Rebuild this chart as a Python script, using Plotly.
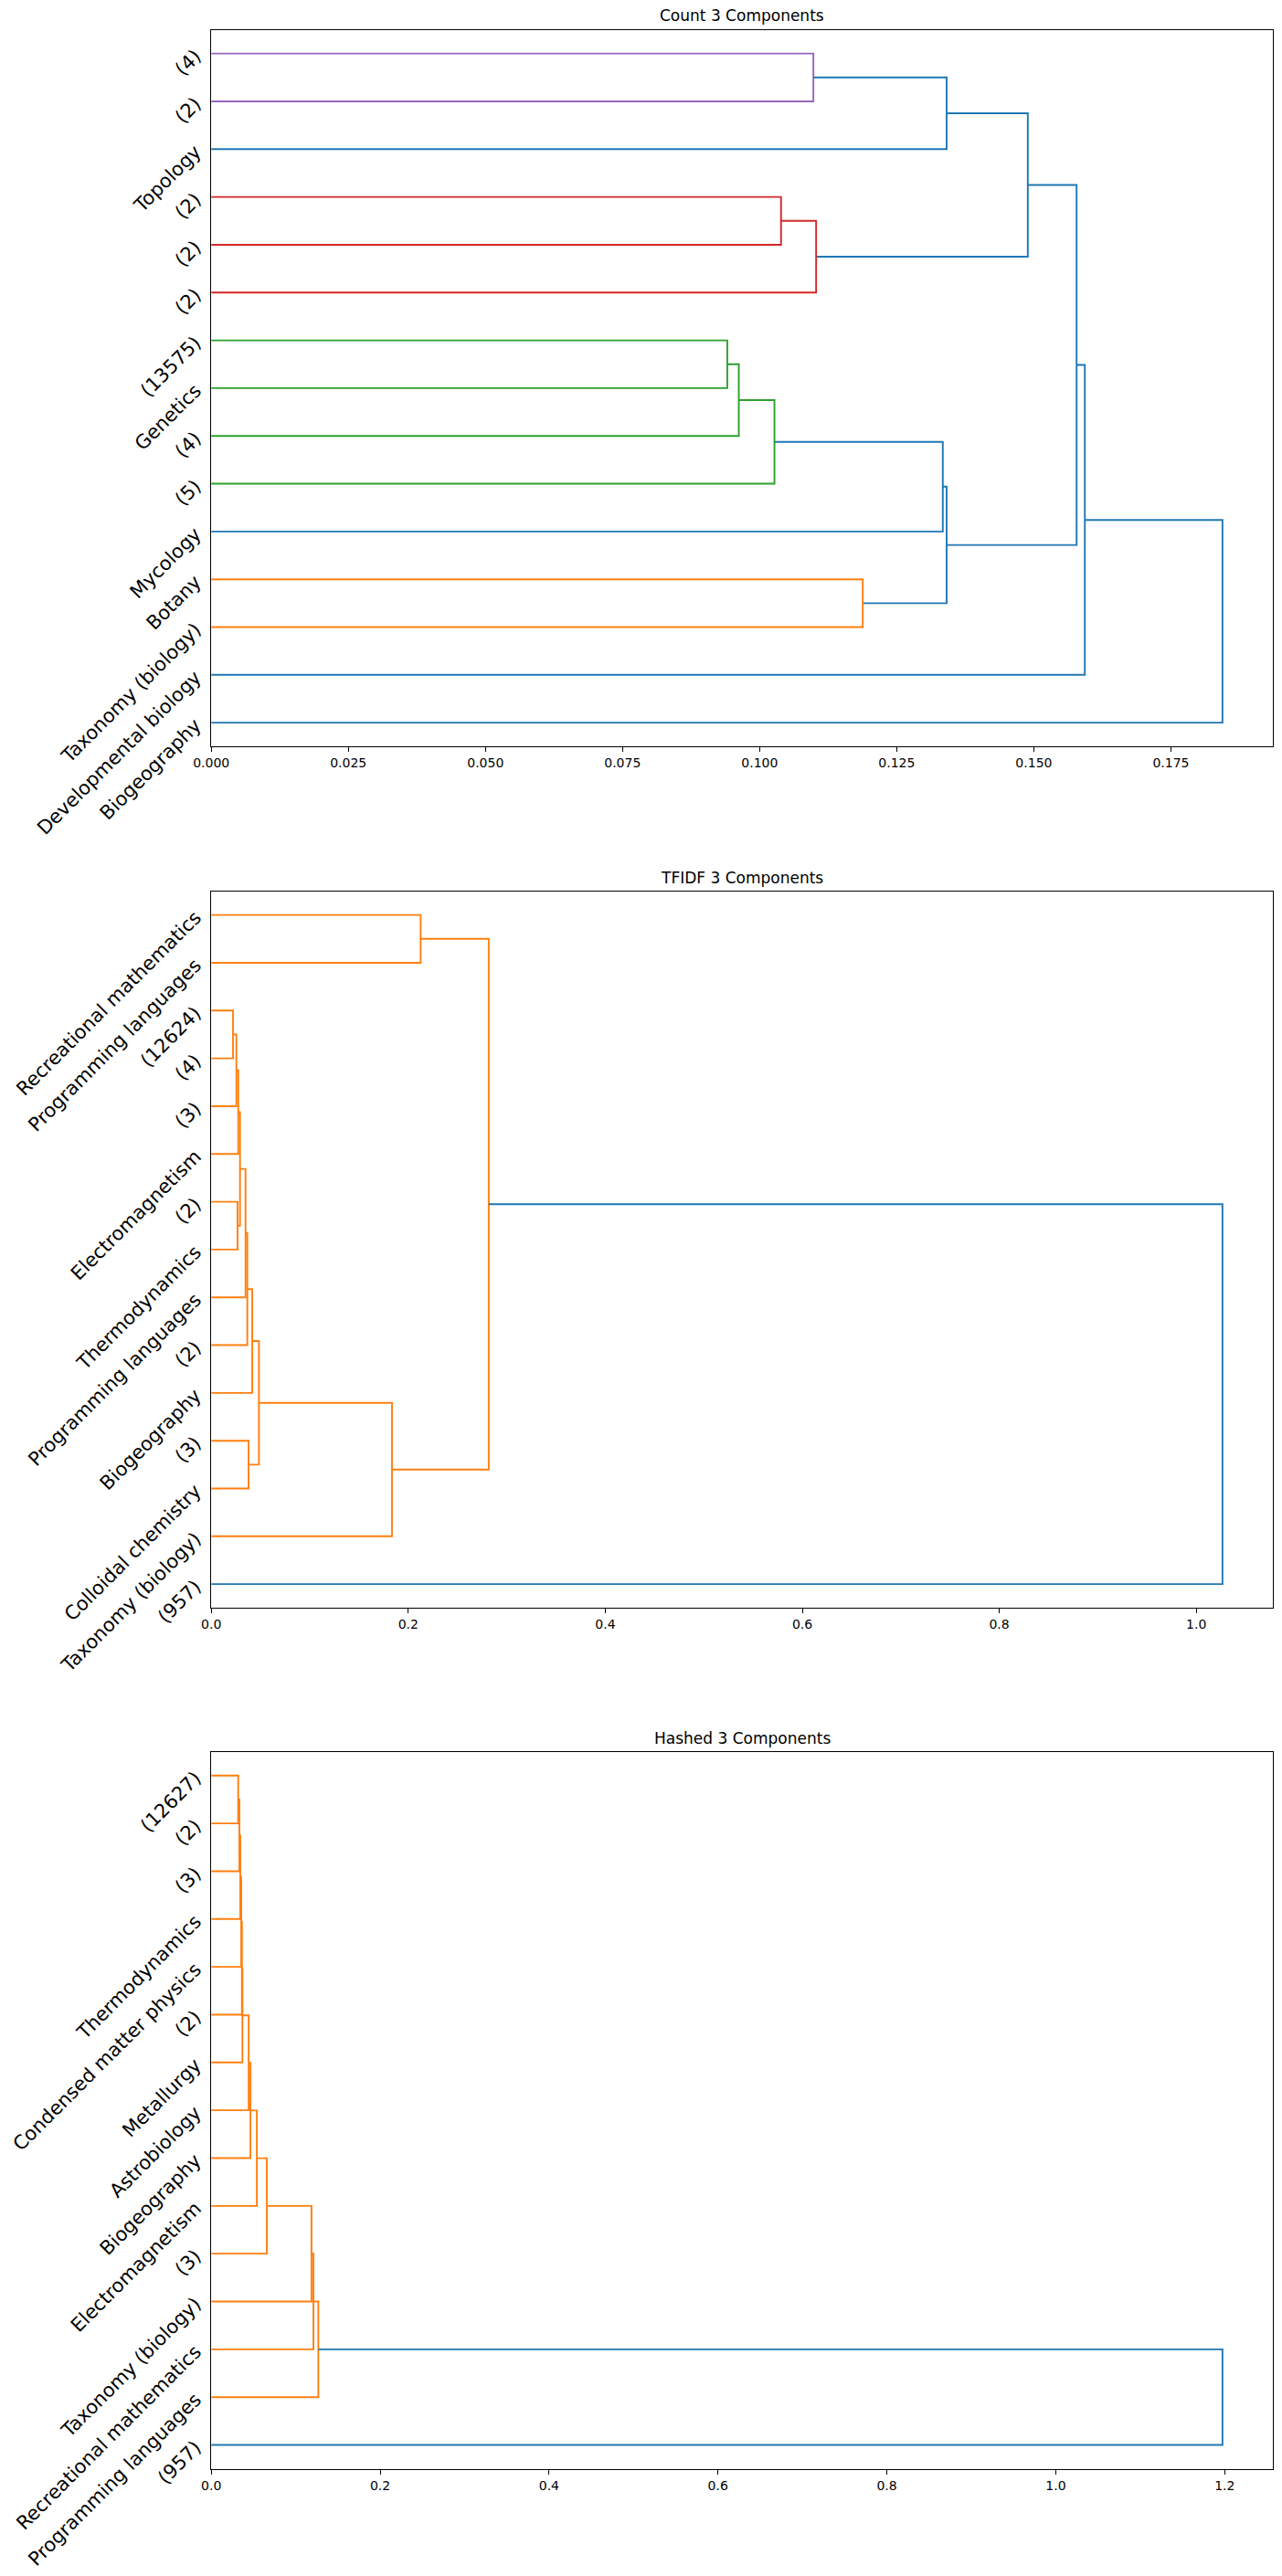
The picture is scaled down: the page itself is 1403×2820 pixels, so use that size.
import plotly.graph_objects as go

# ---------------- data ----------------
# leaf labels listed bottom -> top; merges reference leaves (0..14) or earlier merges (15+k)
count_title = "Count 3 Components"
count_labels = ["Biogeography", "Developmental biology", "Taxonomy (biology)", "Botany", "Mycology",
                "(5)", "(4)", "Genetics", "(13575)", "(2)", "(2)", "(2)", "Topology", "(2)", "(4)"]
count_left = [14, 15, 11, 17, 16, 8, 20, 21, 22, 3, 23, 19, 26, 27]
count_right = [13, 12, 10, 9, 18, 7, 6, 5, 4, 2, 24, 25, 1, 0]
count_heights = [0.1098, 0.1341, 0.1039, 0.1103, 0.1489, 0.0941, 0.0962, 0.1027, 0.1334,
                 0.1188, 0.1341, 0.1578, 0.1593, 0.1844]
count_colors = ["C4", "C0", "C3", "C3", "C0", "C2", "C2", "C2", "C0", "C1", "C0", "C0", "C0", "C0"]

tfidf_title = "TFIDF 3 Components"
tfidf_labels = ["(957)", "Taxonomy (biology)", "Colloidal chemistry", "(3)", "Biogeography", "(2)",
                "Programming languages", "Thermodynamics", "(2)", "Electromagnetism", "(3)", "(4)",
                "(12624)", "Programming languages", "Recreational mathematics"]
tfidf_left = [12, 15, 16, 8, 17, 19, 20, 21, 3, 22, 24, 14, 26, 27]
tfidf_right = [11, 10, 9, 7, 18, 6, 5, 4, 2, 23, 1, 13, 25, 0]
tfidf_heights = [0.0221, 0.0255, 0.0274, 0.0267, 0.0292, 0.0348, 0.0366, 0.0416, 0.0379,
                 0.0484, 0.1835, 0.2126, 0.2817, 1.0266]
tfidf_colors = ["C1"] * 13 + ["C0"]

hashed_title = "Hashed 3 Components"
hashed_labels = ["(957)", "Programming languages", "Recreational mathematics", "Taxonomy (biology)", "(3)",
                 "Electromagnetism", "Biogeography", "Astrobiology", "Metallurgy", "(2)",
                 "Condensed matter physics", "Thermodynamics", "(3)", "(2)", "(12627)"]
hashed_left = [14, 15, 16, 17, 18, 19, 20, 21, 22, 23, 24, 25, 26, 27]
hashed_right = [13, 12, 11, 10, 9, 8, 7, 6, 5, 4, 3, 2, 1, 0]
hashed_heights = [0.0319, 0.0333, 0.0344, 0.0355, 0.0363, 0.0369, 0.0443, 0.0464, 0.0540,
                  0.0658, 0.1187, 0.1210, 0.1268, 1.1974]
hashed_colors = ["C1"] * 13 + ["C0"]

x_tick_step = [0.025, 0.2, 0.2]
x_tick_format = [".3f", ".1f", ".1f"]

# ---------------- styling ----------------
palette = {"C0": "#1f77b4", "C1": "#ff7f0e", "C2": "#2ca02c", "C3": "#d62728", "C4": "#9467bd"}
W, H = 1403, 2820
ax_left, ax_right = 231.2, 1393.2
ax_tops = [32.5, 975.5, 1917.6]
ax_bottoms = [817.3, 1760.3, 2702.7]
FONT = "DejaVu Sans"


def link_paths(n, left, right, heights):
    ypos = {i: 5 + 10 * i for i in range(n)}
    xpos = {i: 0.0 for i in range(n)}
    paths = []
    for k, (a, b, h) in enumerate(zip(left, right, heights)):
        xs = [xpos[a], h, h, xpos[b]]
        ys = [ypos[a], ypos[a], ypos[b], ypos[b]]
        ypos[n + k] = (ypos[a] + ypos[b]) / 2
        xpos[n + k] = h
        paths.append((xs, ys))
    return paths


panels = [
    (count_title, count_labels, count_left, count_right, count_heights, count_colors),
    (tfidf_title, tfidf_labels, tfidf_left, tfidf_right, tfidf_heights, tfidf_colors),
    (hashed_title, hashed_labels, hashed_left, hashed_right, hashed_heights, hashed_colors),
]

fig = go.Figure()
layout = dict(
    width=W, height=H,
    margin=dict(l=0, r=0, t=0, b=0),
    paper_bgcolor="white", plot_bgcolor="white",
    showlegend=False,
    font=dict(family=FONT, color="black"),
)
annotations = []

for p, (title, labels, left, right, heights, colors) in enumerate(panels):
    n = len(labels)
    sfx = "" if p == 0 else str(p + 1)
    paths = link_paths(n, left, right, heights)
    groups = {}
    for (xs, ys), c in zip(paths, colors):
        gx, gy = groups.setdefault(c, ([], []))
        gx.extend(xs + [None])
        gy.extend(ys + [None])
    for c, (gx, gy) in groups.items():
        fig.add_trace(go.Scatter(
            x=gx, y=gy, mode="lines",
            line=dict(color=palette[c], width=1.9),
            xaxis="x" + sfx, yaxis="y" + sfx, hoverinfo="skip",
        ))
    xmax = max(heights) * 1.05
    layout["xaxis" + sfx] = dict(
        domain=[ax_left / W, ax_right / W],
        anchor="y" + sfx,
        range=[0, xmax],
        tick0=0, dtick=x_tick_step[p], tickformat=x_tick_format[p],
        ticks="outside", ticklen=5, tickwidth=1, tickcolor="black",
        showline=True, linecolor="black", linewidth=1.1, mirror=True,
        showgrid=False, zeroline=False,
        tickfont=dict(family=FONT, size=14, color="black"),
        automargin=False,
    )
    layout["yaxis" + sfx] = dict(
        domain=[1 - ax_bottoms[p] / H, 1 - ax_tops[p] / H],
        anchor="x" + sfx,
        range=[0, 10 * n],
        tickmode="array",
        tickvals=[5 + 10 * i for i in range(n)],
        ticktext=labels,
        tickangle=-45,
        ticks="",
        ticklabelstandoff=12,
        showline=True, linecolor="black", linewidth=1.1, mirror=True,
        showgrid=False, zeroline=False,
        tickfont=dict(family=FONT, size=21, color="black"),
        automargin=False,
    )
    annotations.append(dict(
        text=title, showarrow=False,
        xref="x" + sfx + " domain", yref="y" + sfx + " domain",
        x=0.5, y=1, xanchor="center", yanchor="bottom", yshift=3,
        font=dict(family=FONT, size=17, color="black"),
    ))

layout["annotations"] = annotations
fig.update_layout(**layout)
fig.write_html("out.html", config={"displayModeBar": False},
               post_script="document.body.style.margin='0';")
